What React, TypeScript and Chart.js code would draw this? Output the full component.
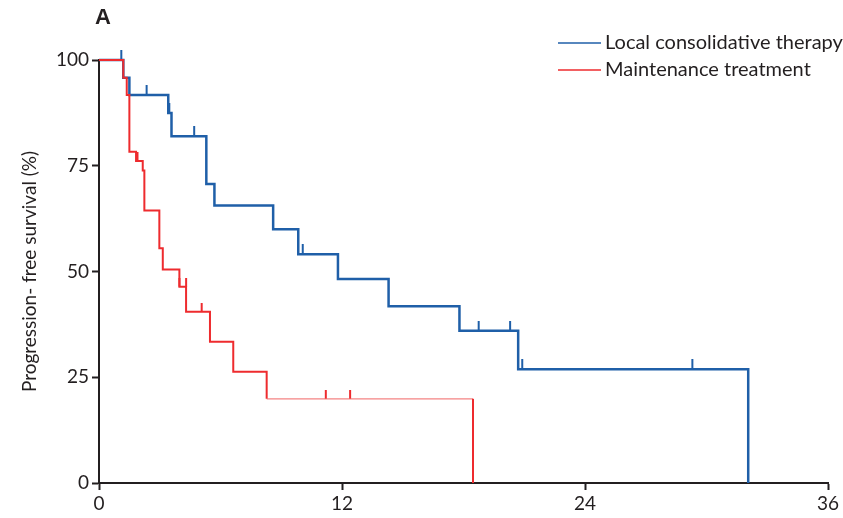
import React, { useEffect, useRef } from 'react';
import { Chart, registerables } from 'chart.js';

Chart.register(...registerables);

// Axis ticks (months, percent)
const xTicks = [0, 12, 24, 36];
const yTicks = [0, 25, 50, 75, 100];

// Local consolidative therapy: Kaplan-Meier steps and censored observations
const lctLabel = 'Local consolidative therapy';
const lctTimes = [0, 1.2, 1.5, 3.42, 3.58, 5.3, 5.7, 8.6, 9.84, 11.8, 14.3, 17.8, 20.7, 32.06];
const lctSurvival = [100, 95.8, 91.7, 87.5, 82, 70.7, 65.6, 60, 54.1, 48.2, 41.8, 36, 26.9, 0];
const lctCensorTimes = [1.1, 2.35, 3.47, 4.7, 10.06, 18.75, 20.3, 20.9, 29.3];
const lctCensorSurvival = [100, 91.7, 87.5, 82, 54.1, 36, 36, 26.9, 26.9];

// Maintenance treatment: Kaplan-Meier steps and censored observations
const mtLabel = 'Maintenance treatment';
const mtTimes = [0, 1.2, 1.37, 1.5, 1.83, 2.16, 2.24, 2.98, 3.15, 3.97, 4.3, 5.48, 6.63, 8.28, 18.47];
const mtSurvival = [100, 95.8, 91.7, 78.3, 76.1, 73.9, 64.4, 55.5, 50.5, 46.4, 40.5, 33.4, 26.3, 19.9, 0];
const mtCensorTimes = [1.9, 3.97, 4.3, 5.07, 11.2, 12.4];
const mtCensorSurvival = [76.1, 46.4, 46.4, 40.5, 19.9, 19.9];

const BLUE = '#1f5fa8';
const RED = '#ee2b2e';
const PALE_RED = 'rgba(240, 90, 90, 0.75)';
const INK = '#231f20';
const FONT = 'Lato, "Noto Sans", sans-serif';

const toPoints = (xs: number[], ys: number[]) => xs.map((x, i) => ({ x, y: ys[i] }));

// Step path with a corner point before the final drop so the long
// plateau and the closing drop can be styled separately.
const withFinalCorner = (xs: number[], ys: number[]) => {
  const pts = toPoints(xs, ys);
  const n = pts.length;
  pts.splice(n - 1, 0, { x: xs[n - 1], y: ys[n - 2] });
  return pts;
};

// Upward censor tick: image centred on the point, mark in the top half only
function censorMark(color: string, width: number, height: number) {
  const c = document.createElement('canvas');
  c.width = 4;
  c.height = height * 2;
  const g = c.getContext('2d')!;
  g.fillStyle = color;
  g.fillRect((4 - width) / 2, 0, width, height);
  return c;
}

const panelText = {
  id: 'panelText',
  afterDraw(chart: any) {
    const ctx = chart.ctx as CanvasRenderingContext2D;
    ctx.save();
    ctx.fillStyle = INK;
    ctx.font = `bold 22px "Liberation Sans", Arial, sans-serif`;
    ctx.textBaseline = 'alphabetic';
    ctx.textAlign = 'left';
    ctx.fillText('A', 95, 24);

    const items = [
      { label: lctLabel, color: BLUE, y: 43 },
      { label: mtLabel, color: RED, y: 70 },
    ];
    ctx.font = `20px ${FONT}`;
    ctx.textBaseline = 'middle';
    for (const it of items) {
      ctx.strokeStyle = it.color;
      ctx.lineWidth = 1.6;
      ctx.beginPath();
      ctx.moveTo(558, it.y);
      ctx.lineTo(601, it.y);
      ctx.stroke();
      ctx.fillStyle = INK;
      ctx.fillText(it.label, 605, it.y);
    }
    ctx.restore();
  },
};

export default function App() {
  const canvasRef = useRef<HTMLCanvasElement | null>(null);

  useEffect(() => {
    const canvas = canvasRef.current;
    if (!canvas) return;

    const chart = new Chart(canvas, {
      type: 'line',
      data: {
        datasets: [
          {
            label: mtLabel,
            data: withFinalCorner(mtTimes, mtSurvival),
            borderColor: RED,
            borderWidth: 2,
            stepped: 'before',
            pointRadius: 0,
            fill: false,
            clip: false as any,
            segment: {
              borderColor: (c: any) =>
                c.p0.parsed.y === c.p1.parsed.y && c.p0.parsed.x >= 8 ? PALE_RED : undefined,
              borderWidth: (c: any) =>
                c.p0.parsed.y === c.p1.parsed.y && c.p0.parsed.x >= 8 ? 1.2 : undefined,
            },
          },
          {
            label: mtLabel + ' censored',
            type: 'scatter' as any,
            data: toPoints(mtCensorTimes, mtCensorSurvival),
            pointStyle: censorMark(RED, 2, 9) as any,
            pointRadius: 5,
            showLine: false,
            clip: false as any,
          },
          {
            label: lctLabel,
            data: toPoints(lctTimes, lctSurvival),
            borderColor: BLUE,
            borderWidth: 2.5,
            stepped: 'before',
            pointRadius: 0,
            fill: false,
            clip: false as any,
          },
          {
            label: lctLabel + ' censored',
            type: 'scatter' as any,
            data: toPoints(lctCensorTimes, lctCensorSurvival),
            pointStyle: censorMark(BLUE, 2, 10) as any,
            pointRadius: 5,
            showLine: false,
            clip: false as any,
          },
        ],
      },
      options: {
        responsive: false,
        animation: false,
        devicePixelRatio: 1,
        layout: { padding: { left: 0, top: 60, right: 15, bottom: 0 } },
        plugins: {
          legend: { display: false },
          tooltip: { enabled: false },
        },
        scales: {
          x: {
            type: 'linear',
            min: 0,
            max: 36,
            afterBuildTicks: (s: any) => {
              s.ticks = xTicks.map((v) => ({ value: v }));
            },
            afterFit: (s: any) => {
              s.height = 35;
            },
            border: { display: true, color: INK, width: 2 },
            grid: {
              display: true,
              drawOnChartArea: false,
              drawTicks: true,
              tickLength: 7,
              tickWidth: 2,
              color: INK,
            },
            ticks: {
              color: INK,
              font: { family: FONT, size: 19 },
              padding: 2,
              maxRotation: 0,
            },
          },
          y: {
            type: 'linear',
            min: 0,
            max: 100,
            afterBuildTicks: (s: any) => {
              s.ticks = yTicks.map((v) => ({ value: v }));
            },
            afterFit: (s: any) => {
              s.width = 99;
            },
            border: { display: true, color: INK, width: 2 },
            grid: {
              display: true,
              drawOnChartArea: false,
              drawTicks: true,
              tickLength: 7,
              tickWidth: 2,
              color: INK,
            },
            ticks: {
              color: INK,
              font: { family: FONT, size: 19 },
              padding: 3,
            },
            title: {
              display: true,
              text: 'Progression- free survival (%)',
              color: INK,
              font: { family: FONT, size: 19 },
              padding: { top: 18, bottom: 0 },
            },
          },
        },
      },
      plugins: [panelText],
    });

    return () => chart.destroy();
  }, []);

  return (
    <div style={{ position: 'fixed', left: 0, top: 0, width: 843, height: 518, background: '#fff' }}>
      <canvas ref={canvasRef} width={843} height={518} style={{ width: 843, height: 518, display: 'block' }} />
    </div>
  );
}
